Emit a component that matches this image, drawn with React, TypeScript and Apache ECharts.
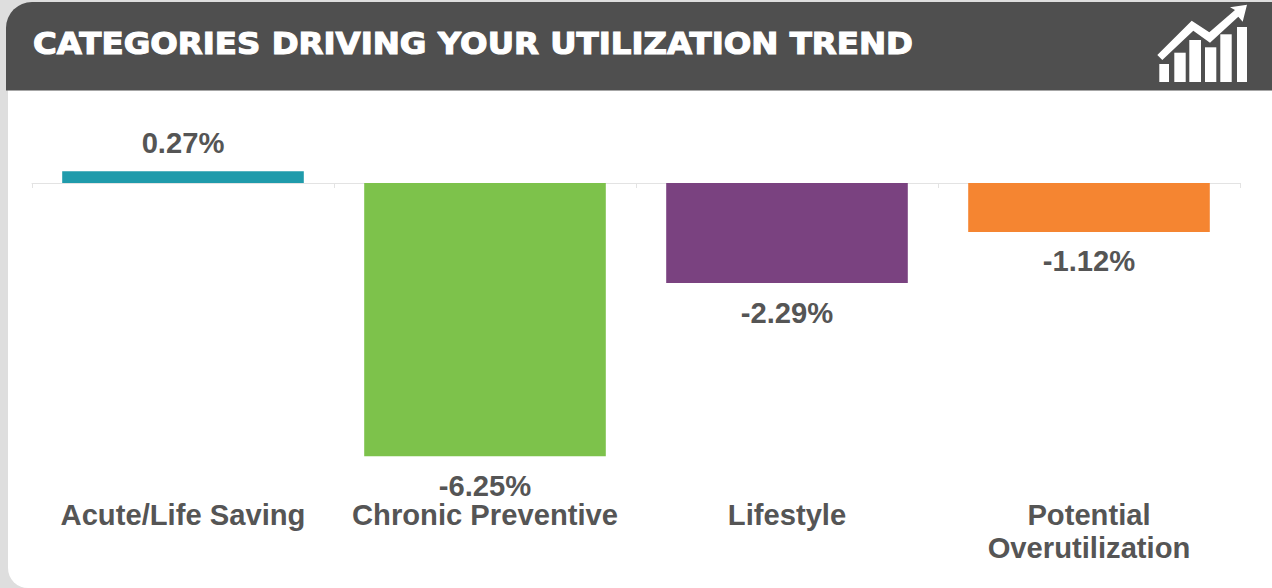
import React, { useEffect, useRef } from "react";
import * as echarts from "echarts";

const TITLE = "CATEGORIES DRIVING YOUR UTILIZATION TREND";
const categories = ["Acute/Life Saving", "Chronic Preventive", "Lifestyle", "Potential\nOverutilization"];
const values = [0.27, -6.25, -2.29, -1.12];
const barColors = ["#1f9bab", "#7dc24b", "#7a4280", "#f58531"];
const TEXT = "#555555";
const FONT = "'Liberation Sans', Arial, sans-serif";

const iconBars = [
  [1159.3, 64, 9.7, 18],
  [1174.3, 52.7, 11.4, 29.3],
  [1189.3, 40, 11.7, 42],
  [1205, 47.3, 11.3, 34.7],
  [1220.3, 34.3, 11.4, 47.7],
  [1237, 27, 10, 55],
];
const iconArrow = [
  [1157.3, 55], [1191.7, 20.7], [1209.3, 32.3], [1235, 10], [1230, 7.3], [1247, 4.7],
  [1242.7, 21.7], [1238.3, 16.7], [1210, 42.7], [1193.3, 30.7], [1162.3, 60],
];

export default function App() {
  const ref = useRef<HTMLDivElement>(null);
  useEffect(() => {
    document.body.style.margin = "0";
    document.body.style.overflow = "hidden";
    const chart = echarts.init(ref.current!, null, { renderer: "svg" });
    chart.setOption({
      animation: false,
      backgroundColor: "#dedede",
      grid: { left: 32, width: 1208, top: 139.3, height: 349.6, containLabel: false, outerBoundsMode: "none" },
      xAxis: {
        type: "category",
        data: categories,
        axisLine: { onZero: true, lineStyle: { color: "#e3e3e3", width: 1 } },
        axisTick: { show: true, length: 5, lineStyle: { color: "#e3e3e3" } },
        axisLabel: {
          interval: 0, margin: 10, color: TEXT, fontFamily: FONT,
          fontSize: 29.2, fontWeight: "bold", lineHeight: 33,
        },
      },
      yAxis: { type: "value", min: -7, max: 1, interval: 1, show: false, splitLine: { show: false } },
      graphic: {
        elements: [
          { type: "rect", z: 0, shape: { x: 8, y: 70, width: 1290, height: 518, r: 20 }, style: { fill: "#ffffff" } },
          { type: "rect", z: 1, shape: { x: 6, y: 2, width: 1290, height: 88.5, r: [26, 26, 0, 0] }, style: { fill: "#4f4f4f" } },
          {
            type: "text", z: 2, x: 33, y: 43, scaleX: 1.046,
            style: {
              text: TITLE, fill: "#ffffff", stroke: "#ffffff", lineWidth: 1.2,
              font: `bold 31px 'DejaVu Sans', sans-serif`, textVerticalAlign: "middle",
            },
          },
          ...iconBars.map(([x, y, width, height]) => ({
            type: "rect", z: 2, shape: { x, y, width, height }, style: { fill: "#ffffff" },
          })),
          { type: "polygon", z: 2, shape: { points: iconArrow }, style: { fill: "#ffffff" } },
        ],
      },
      series: [
        {
          type: "bar",
          barWidth: "80%",
          z: 5,
          data: values.map((v, i) => ({
            value: v,
            itemStyle: { color: barColors[i] },
            label: {
              show: true,
              position: v >= 0 ? "top" : "bottom",
              distance: v >= 0 ? 14 : 15,
              formatter: `${v.toFixed(2)}%`,
              color: TEXT, fontFamily: FONT, fontSize: 29.2, fontWeight: "bold",
            },
          })),
        },
      ],
    });
    return () => chart.dispose();
  }, []);
  return <div ref={ref} style={{ position: "absolute", left: 0, top: 0, width: 1272, height: 588 }} />;
}
